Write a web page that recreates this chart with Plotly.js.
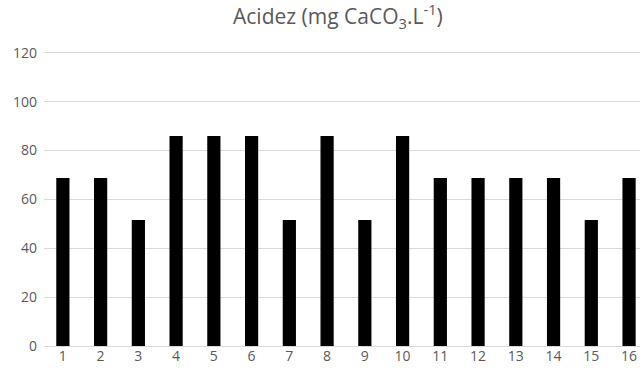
<!DOCTYPE html>
<html>
<head>
<meta charset="utf-8">
<script src="https://cdn.plot.ly/plotly-3.0.1.min.js"></script>
<style>html,body{margin:0;padding:0;background:#fff;}#chart{width:640px;height:374px;}</style>
</head>
<body>
<div id="chart"></div>
<script>
const categories = [1, 2, 3, 4, 5, 6, 7, 8, 9, 10, 11, 12, 13, 14, 15, 16];
const acidez = [68.8, 68.8, 51.6, 86, 86, 86, 51.6, 86, 51.6, 86, 68.8, 68.8, 68.8, 68.8, 51.6, 68.8];
const yTicks = [0, 20, 40, 60, 80, 100, 120];
const titleText = 'Acidez (mg CaCO<sub>3</sub>.L<sup>-1</sup>)';

const font = 'Open Sans, Noto Sans, sans-serif';
const trace = {
  type: 'bar',
  x: categories,
  y: acidez,
  width: 0.35,
  marker: {color: '#000000'},
  hoverinfo: 'x+y'
};
const layout = {
  width: 640, height: 374,
  margin: {l: 44, r: 0, t: 48, b: 28, pad: 0},
  paper_bgcolor: '#ffffff', plot_bgcolor: '#ffffff',
  showlegend: false,
  title: {text: titleText, font: {family: font, size: 21, color: '#595959'}, x: 0.528, xref: 'container', xanchor: 'center', y: 0.955, yref: 'container', yanchor: 'middle'},
  xaxis: {
    type: 'linear', range: [0.5, 16.29], tickmode: 'array', tickvals: categories, ticktext: categories.map(String),
    showgrid: false, zeroline: false, showline: false, ticks: '',
    tickfont: {family: font, size: 14, color: '#595959'}, fixedrange: true
  },
  yaxis: {
    range: [0, 122], tickmode: 'array', tickvals: yTicks, ticktext: yTicks.map(String),
    showgrid: true, gridcolor: '#d9d9d9', gridwidth: 1, zeroline: true, zerolinecolor: '#d9d9d9', zerolinewidth: 1,
    showline: false, ticks: '', ticklabelstandoff: 6,
    tickfont: {family: font, size: 14, color: '#595959'}, fixedrange: true
  }
};
Plotly.newPlot('chart', [trace], layout, {displayModeBar: false, staticPlot: true});
</script>
</body>
</html>
